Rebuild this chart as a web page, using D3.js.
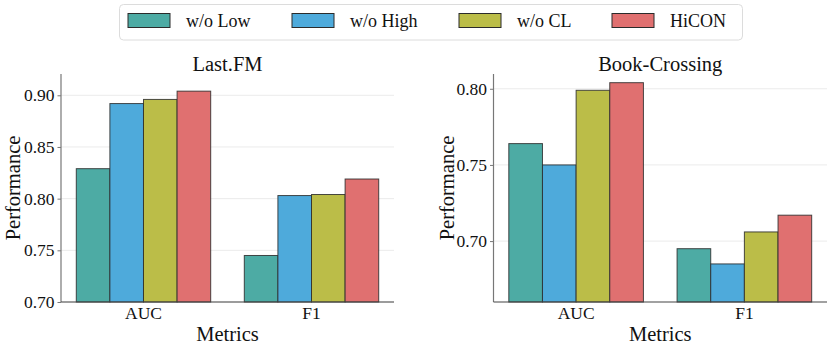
<!DOCTYPE html>
<html>
<head>
<meta charset="utf-8">
<script src="https://cdn.jsdelivr.net/npm/d3@7"></script>
<style>
  body { margin: 0; background: #fff; }
</style>
</head>
<body>
<div id="chart"></div>
<script>
// data
var metrics = ["AUC", "F1"];
var series = ["w/o Low", "w/o High", "w/o CL", "HiCON"];
var colors = ["#4daba4", "#4eaadb", "#bbbd48", "#e07070"];

var lastfmValues = {
    "w/o Low": [0.829, 0.745],
    "w/o High": [0.892, 0.803],
    "w/o CL": [0.896, 0.804],
    "HiCON": [0.904, 0.819]
};
var bookValues = {
    "w/o Low": [0.764, 0.695],
    "w/o High": [0.750, 0.685],
    "w/o CL": [0.799, 0.706],
    "HiCON": [0.804, 0.717]
};

var lastfmTicks = [0.70, 0.75, 0.80, 0.85, 0.90];
var bookTicks = [0.70, 0.75, 0.80];

var svgWidth = 831;
var svgHeight = 350;
var serif = "'Liberation Serif', 'Times New Roman', Times, serif";

var svg = d3.select("#chart")
    .append("svg")
    .attr("width", svgWidth)
    .attr("height", svgHeight)
    .style("font-family", serif);

var color = d3.scaleOrdinal().domain(series).range(colors);

// one panel
function drawPanel(opts) {
    var left = opts.left, right = opts.right, top = 74, bottom = 302;
    var g = svg.append("g");

    var x = d3.scaleBand()
        .domain(metrics)
        .range([left, right])
        .paddingInner(0.2)
        .paddingOuter(0.091);

    var xSub = d3.scaleBand()
        .domain(series)
        .range([0, x.bandwidth()]);

    var y = d3.scaleLinear()
        .domain(opts.yDomain)
        .range([bottom, top]);

    // grid
    g.selectAll(".grid")
        .data(opts.ticks)
        .enter()
        .append("line")
        .attr("x1", left)
        .attr("x2", right)
        .attr("y1", d => y(d))
        .attr("y2", d => y(d))
        .attr("stroke", "#ebebeb")
        .attr("stroke-width", 1);

    // bars
    var rows = [];
    series.forEach(function (s) {
        metrics.forEach(function (m, i) {
            rows.push({ series: s, metric: m, value: opts.values[s][i] });
        });
    });

    g.selectAll(".bar")
        .data(rows)
        .enter()
        .append("rect")
        .attr("x", d => x(d.metric) + xSub(d.series))
        .attr("y", d => y(d.value))
        .attr("width", xSub.bandwidth())
        .attr("height", d => bottom - y(d.value))
        .attr("fill", d => color(d.series))
        .attr("stroke", "#2b2b2b")
        .attr("stroke-opacity", 0.85)
        .attr("stroke-width", 1);

    // axes
    var leftAxis = d3.axisLeft(y)
        .tickValues(opts.ticks)
        .tickFormat(d3.format(".2f"))
        .tickSize(3.5)
        .tickPadding(3);

    var yAxis = g.append("g")
        .attr("transform", `translate(${left}, 0)`)
        .call(leftAxis)
        .attr("font-family", serif);
    yAxis.select(".domain").remove();
    yAxis.selectAll(".tick line").attr("stroke", "#777");
    yAxis.selectAll(".tick text")
        .style("font-family", serif)
        .style("font-size", "17.5px")
        .attr("fill", "#111");

    g.append("line")
        .attr("x1", left).attr("x2", left)
        .attr("y1", top).attr("y2", bottom)
        .attr("stroke", "#777").attr("stroke-width", 1.2);

    var bottomAxis = d3.axisBottom(x).tickSize(0).tickPadding(5);
    var xAxis = g.append("g")
        .attr("transform", `translate(0, ${bottom})`)
        .call(bottomAxis)
        .attr("font-family", serif);
    xAxis.select(".domain").remove();
    xAxis.selectAll(".tick text")
        .style("font-family", serif)
        .style("font-size", "17.5px")
        .attr("fill", "#111");

    g.append("line")
        .attr("x1", left).attr("x2", right)
        .attr("y1", bottom).attr("y2", bottom)
        .attr("stroke", "#444").attr("stroke-width", 1.2);

    // labels
    g.append("text")
        .attr("x", (left + right) / 2)
        .attr("y", 70.5)
        .attr("text-anchor", "middle")
        .style("font-size", "20.5px")
        .attr("fill", "#111")
        .text(opts.title);

    g.append("text")
        .attr("x", (left + right) / 2)
        .attr("y", 340.5)
        .attr("text-anchor", "middle")
        .style("font-size", "20.5px")
        .attr("fill", "#111")
        .text("Metrics");

    g.append("text")
        .attr("transform", `translate(${opts.labelX}, ${(top + bottom) / 2}) rotate(-90)`)
        .attr("text-anchor", "middle")
        .style("font-size", "20.5px")
        .attr("fill", "#111")
        .text("Performance");
}

drawPanel({ left: 61, right: 394, yDomain: [0.70, 0.9206], ticks: lastfmTicks, values: lastfmValues, title: "Last.FM", labelX: 20 });
drawPanel({ left: 493.5, right: 827, yDomain: [0.660, 0.8097], ticks: bookTicks, values: bookValues, title: "Book-Crossing", labelX: 454 });

// legend
var legend = svg.append("g");
legend.append("rect")
    .attr("x", 119.5).attr("y", 4.5)
    .attr("width", 623).attr("height", 35.5)
    .attr("rx", 4)
    .attr("fill", "#fff")
    .attr("stroke", "#dcdcdc");

var legendX = [128, 292, 459, 612];
series.forEach(function (s, i) {
    legend.append("rect")
        .attr("x", legendX[i]).attr("y", 13.5)
        .attr("width", 42).attr("height", 14)
        .attr("fill", color(s))
        .attr("stroke", "#2b2b2b")
        .attr("stroke-width", 1);
    legend.append("text")
        .attr("x", legendX[i] + 58)
        .attr("y", 26.5)
        .style("font-size", "18px")
        .attr("fill", "#111")
        .text(s);
});
</script>
</body>
</html>
